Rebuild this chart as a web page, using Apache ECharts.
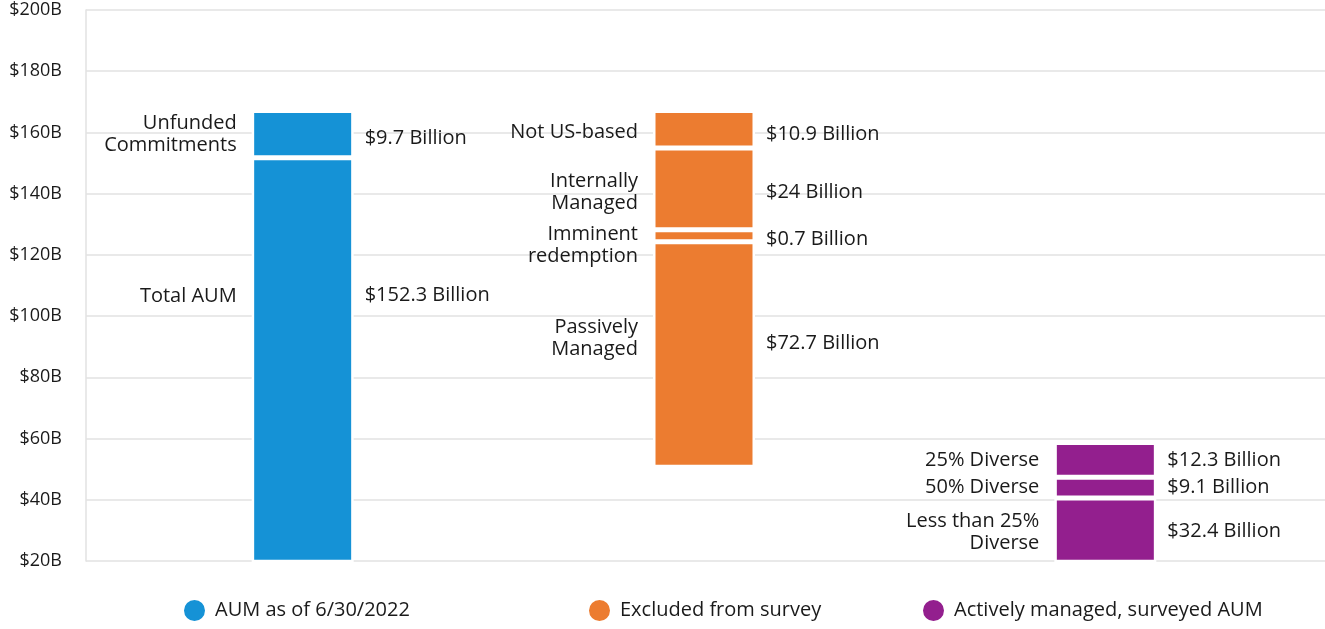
<!DOCTYPE html>
<html>
<head>
<meta charset="utf-8">
<script src="https://cdn.jsdelivr.net/npm/echarts@6/dist/echarts.min.js"></script>
<style>
  html, body { margin: 0; padding: 0; background: #fff; }
  #chart { width: 1325px; height: 629px; }
</style>
</head>
<body>
<div id="chart"></div>
<script>
// groups shown on the x axis (also the legend entries)
const categories = ['AUM as of 6/30/2022', 'Excluded from survey', 'Actively managed, surveyed AUM'];
const yTicks = [20, 40, 60, 80, 100, 120, 140, 160, 180, 200];

// invisible part under each bar (the orange one floats)
const baseValues = [0, 50.6, 0];

// segments from the bottom up, in $B as drawn
const aumValues = [151.7, 15.5];
const aumNames = ['Total AUM', 'Unfunded\nCommitments'];
const aumLabels = ['$152.3 Billion', '$9.7 Billion'];

const excludedValues = [73.7, 3.9, 26.7, 12.3];
const excludedNames = ['Passively\nManaged', 'Imminent\nredemption', 'Internally\nManaged', 'Not US-based'];
const excludedLabels = ['$72.7 Billion', '$0.7 Billion', '$24 Billion', '$10.9 Billion'];

const activeValues = [40.6, 6.8, 11.3];
const activeNames = ['Less than 25%\nDiverse', '50% Diverse', '25% Diverse'];
const activeLabels = ['$32.4 Billion', '$9.1 Billion', '$12.3 Billion'];

const groups = [
  { values: aumValues, names: aumNames, labels: aumLabels },
  { values: excludedValues, names: excludedNames, labels: excludedLabels },
  { values: activeValues, names: activeNames, labels: activeLabels }
];

// styling
const colors = ['#1592d6', '#ec7c30', '#931f8e'];
const font = 'Open Sans';
const textColor = '#1a1a1a';
// small vertical nudges for labels that are not centred on their segment
const leftNudge = {
  'Total AUM': -64, 'Passively\nManaged': -16, 'Imminent\nredemption': 10,
  'Not US-based': 3, 'Internally\nManaged': 3, 'Less than 25%\nDiverse': 2
};
const rightNudge = {
  'Total AUM': -64, 'Passively\nManaged': -11, 'Imminent\nredemption': 4,
  'Unfunded\nCommitments': 4, 'Not US-based': 5, 'Internally\nManaged': 3, 'Less than 25%\nDiverse': 2
};

const chart = echarts.init(document.getElementById('chart'));

function onlyAt(g, v) {
  return categories.map((c, k) => (k === g ? v : '-'));
}

const series = [];
['segments', 'labels'].forEach(stack => {
  series.push({
    name: 'base-' + stack,
    type: 'bar',
    stack: stack,
    xAxisIndex: 1,
    yAxisIndex: 1,
    barWidth: 102,
    barGap: '-100%',
    silent: true,
    itemStyle: { color: 'transparent' },
    data: baseValues.map(v => v)
  });
});

groups.forEach((grp, g) => {
  grp.values.forEach((v, i) => {
    const name = grp.names[i];
    // coloured segment with the left-hand name label
    series.push({
      name: categories[g],
      type: 'bar',
      stack: 'segments',
      xAxisIndex: 1,
      yAxisIndex: 1,
      barWidth: 102,
      barGap: '-100%',
      itemStyle: { color: colors[g], borderColor: '#fff', borderWidth: 2.5 },
      label: {
        show: true,
        position: 'left',
        distance: 15,
        offset: [0, leftNudge[name] || 0],
        formatter: name,
        align: 'right',
        fontFamily: font,
        fontSize: 20,
        lineHeight: 22,
        color: textColor
      },
      data: onlyAt(g, v)
    });
    // transparent copy carrying the right-hand value label
    series.push({
      name: 'label-' + g + '-' + i,
      type: 'bar',
      stack: 'labels',
      xAxisIndex: 1,
      yAxisIndex: 1,
      barWidth: 102,
      barGap: '-100%',
      silent: true,
      itemStyle: { color: 'transparent' },
      label: {
        show: true,
        position: 'right',
        distance: 11,
        offset: [0, rightNudge[name] || 0],
        formatter: grp.labels[i],
        fontFamily: font,
        fontSize: 20,
        color: textColor
      },
      data: onlyAt(g, v)
    });
  });
});

const legendLeft = [182, 587, 921];
const legends = categories.map((c, i) => ({
  data: [c],
  left: legendLeft[i],
  top: 598,
  padding: 0,
  icon: 'circle',
  itemWidth: 23,
  itemHeight: 23,
  itemGap: 0,
  selectedMode: false,
  textStyle: { fontFamily: font, fontSize: 20, color: textColor, padding: [0, 0, 0, 4] }
}));

const option = {
  backgroundColor: '#fff',
  animation: false,
  color: colors,
  legend: legends,
  grid: [
    { left: 86, right: 0, top: 10, bottom: 68 },
    { left: 102, right: 19, top: 10, bottom: 68 }
  ],
  xAxis: [
    { type: 'category', gridIndex: 0, data: categories, show: false },
    { type: 'category', gridIndex: 1, data: categories, show: false }
  ],
  yAxis: [
    {
      type: 'value',
      gridIndex: 0,
      min: yTicks[0],
      max: yTicks[yTicks.length - 1],
      interval: 20,
      axisLine: { show: true, lineStyle: { color: '#e2e2e2', width: 1.5 } },
      axisTick: { show: false },
      splitLine: { lineStyle: { color: '#e2e2e2', width: 1.5 } },
      axisLabel: {
        margin: 24,
        formatter: v => '$' + v + 'B',
        fontFamily: font,
        fontSize: 18,
        color: textColor
      }
    },
    {
      type: 'value',
      gridIndex: 1,
      min: yTicks[0],
      max: yTicks[yTicks.length - 1],
      interval: 20,
      show: false,
      splitLine: { show: false }
    }
  ],
  series: series
};

chart.setOption(option);
</script>
</body>
</html>
